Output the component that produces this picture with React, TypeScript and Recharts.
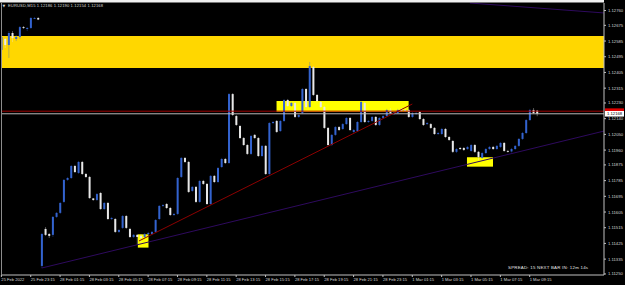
import React from 'react';
import { ComposedChart, Bar, XAxis, YAxis, ReferenceArea, ReferenceLine } from 'recharts';

// EURUSD M15, one row per bar: [open, high, low, close]
const candles: [number, number, number, number][] = [
  [1.12534, 1.12619, 1.12522, 1.12608],
  [1.12597, 1.12602, 1.12545, 1.12562],
  [1.12562, 1.12642, 1.12488, 1.12631],
  [1.12631, 1.12642, 1.12579, 1.12602],
  [1.12597, 1.12619, 1.12585, 1.12608],
  [1.12608, 1.12671, 1.12597, 1.12665],
  [1.12665, 1.12671, 1.12654, 1.1266],
  [1.12654, 1.12665, 1.12642, 1.1266],
  [1.1266, 1.12723, 1.12654, 1.12717],
  [1.12714, 1.12723, 1.12711, 1.12717],
  [1.12717, 1.12723, 1.12705, 1.12708],
  [1.11296, 1.11485, 1.11284, 1.11479],
  [1.11508, 1.11519, 1.11468, 1.11474],
  [1.11479, 1.11485, 1.11456, 1.11468],
  [1.11474, 1.11582, 1.11462, 1.11577],
  [1.11577, 1.11605, 1.11571, 1.116],
  [1.116, 1.11663, 1.11594, 1.11657],
  [1.11663, 1.11794, 1.11657, 1.11789],
  [1.11789, 1.11806, 1.11783, 1.118],
  [1.118, 1.11875, 1.11794, 1.11869],
  [1.11869, 1.11875, 1.11829, 1.11834],
  [1.11829, 1.11898, 1.11823, 1.11892],
  [1.11892, 1.11898, 1.11817, 1.11823],
  [1.11823, 1.11829, 1.118, 1.11806],
  [1.11806, 1.11812, 1.1168, 1.11685],
  [1.11683, 1.11685, 1.11668, 1.11674],
  [1.11674, 1.11714, 1.11668, 1.11708],
  [1.11714, 1.1172, 1.11617, 1.11622],
  [1.11622, 1.11663, 1.11617, 1.11657],
  [1.11657, 1.11663, 1.11559, 1.11565],
  [1.11565, 1.11577, 1.11559, 1.11571],
  [1.11565, 1.11571, 1.11485, 1.11491],
  [1.11491, 1.11508, 1.11485, 1.11502],
  [1.11514, 1.11588, 1.11508, 1.11582],
  [1.11582, 1.11588, 1.11508, 1.11514],
  [1.11508, 1.11514, 1.11456, 1.11462],
  [1.11462, 1.11479, 1.11456, 1.11474],
  [1.11474, 1.11479, 1.11416, 1.11462],
  [1.11468, 1.11479, 1.11428, 1.11456],
  [1.11462, 1.11485, 1.11451, 1.11479],
  [1.11479, 1.11491, 1.11468, 1.11485],
  [1.11479, 1.11496, 1.11474, 1.11491],
  [1.11491, 1.11565, 1.11485, 1.11559],
  [1.11565, 1.11645, 1.11559, 1.1164],
  [1.1164, 1.11651, 1.11634, 1.11645],
  [1.11651, 1.11657, 1.11622, 1.11628],
  [1.11628, 1.11634, 1.11582, 1.11588],
  [1.11588, 1.116, 1.11582, 1.11594],
  [1.11594, 1.11806, 1.11588, 1.118],
  [1.11806, 1.1192, 1.118, 1.11915],
  [1.11915, 1.1192, 1.11886, 1.11892],
  [1.11892, 1.11898, 1.11714, 1.1172],
  [1.11726, 1.11754, 1.1172, 1.11749],
  [1.11749, 1.11754, 1.11657, 1.11663],
  [1.11663, 1.11789, 1.11657, 1.11783],
  [1.11783, 1.11789, 1.1176, 1.11766],
  [1.11766, 1.11771, 1.11645, 1.11651],
  [1.11651, 1.11817, 1.11645, 1.11812],
  [1.11812, 1.11817, 1.11771, 1.11777],
  [1.11777, 1.11863, 1.11771, 1.11857],
  [1.11863, 1.11915, 1.11857, 1.11909],
  [1.11909, 1.11915, 1.1188, 1.11886],
  [1.11886, 1.12287, 1.1188, 1.12281],
  [1.12281, 1.12287, 1.12155, 1.12161],
  [1.12155, 1.12161, 1.12098, 1.12104],
  [1.12098, 1.12104, 1.12024, 1.12029],
  [1.12029, 1.12035, 1.11984, 1.11989],
  [1.11989, 1.11995, 1.11932, 1.11938],
  [1.11938, 1.12047, 1.11932, 1.12041],
  [1.12047, 1.12052, 1.12024, 1.12029],
  [1.12029, 1.12035, 1.1192, 1.11926],
  [1.11926, 1.11989, 1.1192, 1.11984],
  [1.11984, 1.11989, 1.11817, 1.11823],
  [1.11823, 1.12121, 1.11817, 1.12115],
  [1.12115, 1.12127, 1.12109, 1.12121],
  [1.12127, 1.12132, 1.12058, 1.12064],
  [1.12069, 1.12132, 1.12064, 1.12127],
  [1.12127, 1.12253, 1.12121, 1.12247],
  [1.12247, 1.12253, 1.12207, 1.12213],
  [1.12213, 1.12236, 1.12207, 1.1223],
  [1.1223, 1.12236, 1.12144, 1.1215],
  [1.1215, 1.12167, 1.12144, 1.12161],
  [1.12172, 1.12316, 1.12167, 1.1231],
  [1.1231, 1.12316, 1.12201, 1.12207],
  [1.12207, 1.12465, 1.12201, 1.12442],
  [1.12436, 1.12442, 1.1227, 1.12276],
  [1.12276, 1.12281, 1.12236, 1.12241],
  [1.12236, 1.12241, 1.12201, 1.12207],
  [1.12207, 1.12213, 1.12081, 1.12087],
  [1.12087, 1.12092, 1.11984, 1.11989],
  [1.11989, 1.12052, 1.11984, 1.12047],
  [1.12047, 1.12098, 1.12041, 1.12092],
  [1.12092, 1.12098, 1.12069, 1.12075],
  [1.12081, 1.12115, 1.12075, 1.12109],
  [1.12109, 1.1215, 1.12104, 1.12144],
  [1.12144, 1.1215, 1.12069, 1.12075],
  [1.12064, 1.12081, 1.12058, 1.12075],
  [1.12069, 1.12127, 1.12064, 1.12121],
  [1.12121, 1.12241, 1.12115, 1.12236],
  [1.1223, 1.12236, 1.12115, 1.12121],
  [1.12121, 1.12132, 1.12115, 1.12127],
  [1.12127, 1.12155, 1.12121, 1.1215],
  [1.1215, 1.12155, 1.12098, 1.12104],
  [1.12104, 1.1215, 1.12098, 1.12144],
  [1.12144, 1.12161, 1.12138, 1.12155],
  [1.12155, 1.12196, 1.1215, 1.1219],
  [1.1219, 1.12201, 1.12167, 1.12172],
  [1.1217, 1.12178, 1.12161, 1.12175],
  [1.12172, 1.12196, 1.12167, 1.1219],
  [1.12196, 1.12201, 1.12178, 1.12184],
  [1.1219, 1.12196, 1.12178, 1.12184],
  [1.1219, 1.12196, 1.12144, 1.1215],
  [1.1215, 1.12178, 1.12144, 1.12172],
  [1.12167, 1.12178, 1.12161, 1.12172],
  [1.12178, 1.12184, 1.12132, 1.12138],
  [1.12138, 1.12144, 1.12098, 1.12104],
  [1.12109, 1.12121, 1.12104, 1.12115],
  [1.12109, 1.12115, 1.12081, 1.12087],
  [1.12087, 1.12092, 1.12047, 1.12052],
  [1.12052, 1.12064, 1.12047, 1.12058],
  [1.12052, 1.12087, 1.12047, 1.12081],
  [1.12081, 1.12087, 1.12029, 1.12035],
  [1.12035, 1.12041, 1.12012, 1.12018],
  [1.12012, 1.12018, 1.11943, 1.1195],
  [1.1195, 1.11972, 1.11943, 1.11966],
  [1.11972, 1.11978, 1.11961, 1.11966],
  [1.11972, 1.11978, 1.11955, 1.11961],
  [1.11966, 1.11984, 1.11961, 1.11978],
  [1.11955, 1.11995, 1.1195, 1.11989],
  [1.11989, 1.11995, 1.11943, 1.1195],
  [1.1195, 1.11955, 1.11903, 1.1192],
  [1.11915, 1.1195, 1.11909, 1.11943],
  [1.11943, 1.11972, 1.11938, 1.11966],
  [1.11966, 1.11984, 1.11961, 1.11978],
  [1.11978, 1.11984, 1.11961, 1.11966],
  [1.11966, 1.11989, 1.11961, 1.11984],
  [1.11978, 1.12006, 1.11972, 1.12001],
  [1.12001, 1.12006, 1.1195, 1.11955],
  [1.11955, 1.11961, 1.11946, 1.11952],
  [1.11952, 1.11972, 1.11946, 1.11966],
  [1.11966, 1.11989, 1.11961, 1.11984],
  [1.11984, 1.12029, 1.11978, 1.12024],
  [1.12024, 1.12064, 1.12018, 1.12058],
  [1.12058, 1.12138, 1.12052, 1.12132],
  [1.12132, 1.12196, 1.12127, 1.1219],
  [1.1219, 1.12201, 1.12167, 1.12172],
  [1.12186, 1.1219, 1.12154, 1.12168],
];

// time labels, one every 8 bars starting at bar 0
const timeLabels = [
  '25 Feb 2022', '25 Feb 23:15', '28 Feb 01:15', '28 Feb 03:15', '28 Feb 05:15',
  '28 Feb 07:15', '28 Feb 09:15', '28 Feb 11:15', '28 Feb 13:15', '28 Feb 15:15',
  '28 Feb 17:15', '28 Feb 19:15', '28 Feb 21:15', '28 Feb 23:15', '1 Mar 01:15',
  '1 Mar 03:15', '1 Mar 05:15', '1 Mar 07:15', '1 Mar 09:15',
];
const timeTicks = timeLabels.map((_, k) => k * 8);

const priceTicks = [
  1.1276, 1.12675, 1.12585, 1.12495, 1.12405, 1.12315, 1.1223, 1.1214, 1.1205,
  1.1196, 1.11875, 1.11785, 1.11695, 1.11605, 1.11515, 1.11425, 1.11335, 1.1125,
];

const bid = 1.12168;
const ask = 1.12183;

// supply / demand zones: [barFrom, barTo, priceLow, priceHigh]
const supplyBand = [1.1243, 1.12614];
const zoneBoxes: [number, number, number, number][] = [
  [75, 111, 1.12178, 1.12241],
  [37.2, 40.1, 1.11401, 1.11477],
  [126.9, 134, 1.11865, 1.11919],
];

// trend lines: [bar, price] -> [bar, price]
const redTrend = [[37.5, 1.11439], [112, 1.12224]];
const purpleTrend = [[11, 1.11284], [164.25, 1.12069]];
const purpleTop = [[127.7, 1.12803], [164.25, 1.12746]];

const rows = candles.map(([open, high, low, close], i) => ({
  i, open, high, low, close, range: [low, high],
}));

const BULL = '#3363cf';
const BEAR = '#e8e8e8';
const TXT = '#d6d6d6';
const FONT = '"Liberation Sans", Arial, sans-serif';

const Candle = (props: any) => {
  const { x, y, width, height, payload } = props;
  if (x == null || !payload) return null;
  const top = Math.min(y, y + height);
  const span = Math.abs(height);
  const toY = (p: number) => top + ((payload.high - p) / (payload.high - payload.low)) * span;
  const cx = x + width / 2;
  const up = payload.close >= payload.open;
  const color = up ? BULL : BEAR;
  const bTop = toY(Math.max(payload.open, payload.close));
  const bBot = toY(Math.min(payload.open, payload.close));
  return (
    <g>
      <line x1={cx} x2={cx} y1={top} y2={top + span} stroke={color} strokeWidth={0.6} strokeOpacity={0.6} />
      <rect x={cx - 1} y={bTop} width={2} height={Math.max(bBot - bTop, 0.9)} fill={color} />
    </g>
  );
};

const TimeTick = (props: any) => {
  const { x, y, payload } = props;
  return (
    <text x={x} y={y + 1.6} fontSize={4.1} fill={TXT} fontFamily={FONT} textAnchor="start">
      {timeLabels[payload.value / 8]}
    </text>
  );
};

const PriceTick = (props: any) => {
  const { x, y, payload } = props;
  return (
    <text x={x} y={y + 1.5} fontSize={4.2} fill={TXT} fontFamily={FONT} textAnchor="start">
      {payload.value.toFixed(5)}
    </text>
  );
};

const PriceTag = (props: any) => {
  const { viewBox, text, bg, fg } = props;
  if (!viewBox) return null;
  const x = viewBox.x + viewBox.width + 1;
  const y = viewBox.y;
  return (
    <g>
      <rect x={x} y={y - 2.8} width={19} height={5.6} fill={bg} />
      {text ? (
        <text x={x + 2} y={y + 1.5} fontSize={4.2} fill={fg} fontFamily={FONT}>
          {text}
        </text>
      ) : null}
    </g>
  );
};

export default function App() {
  return (
    <div style={{ position: 'relative', width: 625, height: 285, background: '#000' }}>
      <style>{'body{margin:0;background:#000}'}</style>
      <ComposedChart width={625} height={285} data={rows} margin={{ top: 3, right: 0, bottom: 0, left: 1 }}>
        <XAxis
          type="number"
          dataKey="i"
          domain={[-0.1, 164.25]}
          allowDataOverflow
          ticks={timeTicks}
          interval={0}
          tick={<TimeTick />}
          tickSize={2}
          tickMargin={2}
          tickLine={{ stroke: '#c0c0c0' }}
          axisLine={{ stroke: '#c0c0c0' }}
          height={10}
        />
        <YAxis
          orientation="right"
          type="number"
          domain={[1.11244, 1.12803]}
          allowDataOverflow
          ticks={priceTicks}
          interval={0}
          tick={<PriceTick />}
          tickSize={2}
          tickMargin={2}
          tickLine={{ stroke: '#c0c0c0' }}
          axisLine={{ stroke: '#c0c0c0' }}
          width={21}
        />
        <ReferenceArea y1={supplyBand[0]} y2={supplyBand[1]} fill="#ffd700" fillOpacity={1} stroke="none" />
        {zoneBoxes.map(([a, b, lo, hi], k) => (
          <ReferenceArea key={k} x1={a} x2={b} y1={lo} y2={hi} fill="#ffff00" fillOpacity={1} stroke="none" />
        ))}
        <ReferenceLine y={ask} stroke="#a00000" strokeWidth={1} label={<PriceTag bg="#e00000" />} />
        <ReferenceLine y={bid} stroke="#b8b8b8" strokeWidth={1} label={<PriceTag text={bid.toFixed(5)} bg="#ffffff" fg="#000" />} />
        <Bar dataKey="range" shape={<Candle />} barSize={2} isAnimationActive={false} />
        <ReferenceLine
          segment={[{ x: redTrend[0][0], y: redTrend[0][1] }, { x: redTrend[1][0], y: redTrend[1][1] }]}
          stroke="#8c0000"
          strokeWidth={1}
        />
        <ReferenceLine
          segment={[{ x: purpleTrend[0][0], y: purpleTrend[0][1] }, { x: purpleTrend[1][0], y: purpleTrend[1][1] }]}
          stroke="#2e0a5e"
          strokeWidth={1}
        />
        <ReferenceLine
          segment={[{ x: purpleTop[0][0], y: purpleTop[0][1] }, { x: purpleTop[1][0], y: purpleTop[1][1] }]}
          stroke="#2e0a5e"
          strokeWidth={1}
        />
      </ComposedChart>
      <svg width={625} height={285} style={{ position: 'absolute', left: 0, top: 0, pointerEvents: 'none' }}>
        <rect x={0} y={0} width={604} height={2.5} fill="#f0f0f0" />
        <line x1={1.5} y1={3} x2={1.5} y2={275} stroke="#8c8c8c" strokeWidth={1} />
        <text x={2.5} y={6.8} fontSize={3.6} fill={TXT} fontFamily="DejaVu Sans">▼</text>
        <text x={8} y={6.8} fontSize={4.1} fill={TXT} fontFamily={FONT} textLength={95}>
          EURUSD,M15  1.12186 1.12190 1.12154 1.12168
        </text>
        <text x={508} y={269.3} fontSize={4.4} fill="#e6e6e6" fontFamily={FONT} textLength={80}>
          SPREAD: 15  NEXT BAR IN: 12m 14s
        </text>
      </svg>
    </div>
  );
}
